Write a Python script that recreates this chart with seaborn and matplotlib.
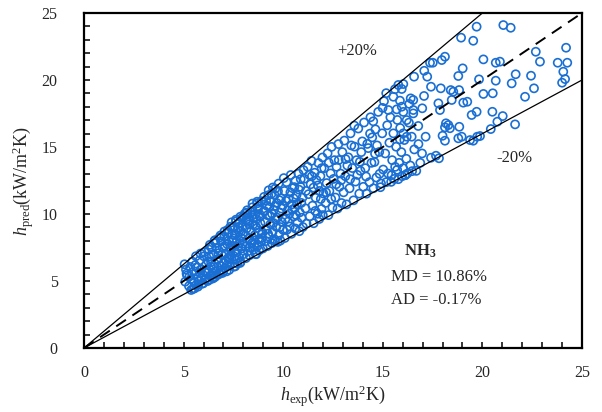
import matplotlib
matplotlib.use("Agg")
import matplotlib.pyplot as plt
from matplotlib.ticker import MultipleLocator
import seaborn as sns
import pandas as pd

# Measured (h_exp) vs. predicted (h_pred) heat transfer coefficient, kW/m2K,
# grouped by range of h_exp
h_exp_05 = [5.05, 5.12, 5.18, 5.08, 5.27, 5.33, 5.41, 5.36, 5.47, 5.52, 5.58, 5.63, 5.69, 5.74, 5.81,
            5.77, 5.88, 5.93, 5.97, 6.02, 5.44, 5.29, 5.66, 5.91, 5.99, 5.55, 5.38, 5.84, 5.15, 5.72,
            5.62, 5.85]
h_pred_05 = [6.25, 5.85, 5.42, 4.95, 4.62, 6.05, 5.62, 5.15, 4.41, 4.93, 6.18, 5.71, 5.28, 4.74, 6.55,
             5.02, 5.88, 4.80, 5.47, 6.84, 6.45, 5.33, 6.02, 5.21, 4.83, 4.45, 4.33, 5.58, 5.55, 4.58,
             6.85, 7.05]

h_exp_06 = [6.06, 6.13, 6.09, 6.21, 6.17, 6.28, 6.34, 6.31, 6.42, 6.38, 6.47, 6.53, 6.51, 6.58, 6.63,
            6.61, 6.72, 6.68, 6.77, 6.83, 6.79, 6.88, 6.92, 6.86, 6.97, 7.02, 6.99, 6.24, 6.44, 6.57,
            6.74, 6.36, 6.49, 6.91, 6.11, 6.66, 6.81, 6.27, 6.55, 6.95, 6.32, 6.58, 6.85]
h_pred_06 = [7.15, 6.22, 5.08, 5.00, 5.77, 6.84, 5.38, 5.10, 7.52, 6.41, 5.19, 6.03, 7.02, 5.30, 5.71,
             7.83, 6.62, 5.44, 7.28, 6.13, 5.52, 7.97, 6.93, 5.79, 7.48, 6.38, 5.73, 6.47, 5.62, 6.29,
             7.07, 6.08, 5.25, 5.81, 5.63, 7.45, 8.25, 7.35, 8.00, 5.60, 7.70, 8.05, 8.40]

h_exp_07 = [7.04, 7.11, 7.08, 7.16, 7.23, 7.19, 7.27, 7.32, 7.29, 7.38, 7.43, 7.36, 7.48, 7.53, 7.46,
            7.57, 7.62, 7.59, 7.66, 7.71, 7.69, 7.77, 7.82, 7.79, 7.88, 7.91, 7.86, 7.96, 8.02, 7.98,
            7.21, 7.41, 7.63, 7.34, 7.51, 7.74, 7.93, 7.13, 7.55, 7.84, 7.06, 7.26, 7.44, 7.67, 7.89,
            7.31, 7.58, 7.75, 7.17, 7.95, 7.05, 7.35, 7.62, 7.85]
h_pred_07 = [8.32, 7.04, 5.98, 5.72, 6.71, 7.74, 8.61, 6.28, 5.83, 7.31, 8.04, 6.92, 9.02, 6.07, 7.63,
             8.43, 6.58, 6.10, 7.12, 8.83, 6.31, 9.27, 7.82, 6.76, 8.22, 7.43, 6.43, 9.04, 7.01, 8.52,
             8.81, 9.38, 9.58, 7.44, 8.17, 7.58, 9.71, 6.52, 6.83, 6.35, 7.62, 8.01, 8.48, 7.97, 8.71,
             6.66, 7.25, 9.02, 6.18, 7.78, 8.70, 9.05, 9.45, 9.80]

h_exp_08 = [8.04, 8.09, 8.13, 8.17, 8.22, 8.19, 8.26, 8.31, 8.28, 8.37, 8.42, 8.39, 8.46, 8.51, 8.48,
            8.57, 8.62, 8.59, 8.66, 8.71, 8.68, 8.77, 8.82, 8.79, 8.86, 8.91, 8.88, 8.96, 9.02, 8.98,
            8.21, 8.43, 8.61, 8.84, 8.33, 8.53, 8.73, 8.93, 8.11, 8.64, 8.07, 8.29, 8.49, 8.69, 8.94,
            8.36, 8.56, 8.76, 8.16, 8.81, 8.15, 8.45, 8.70]
h_pred_08 = [9.83, 7.58, 6.71, 8.93, 7.22, 10.28, 8.17, 6.92, 9.52, 10.13, 7.81, 8.73, 10.78, 7.33, 9.21,
             8.42, 7.02, 9.98, 9.63, 7.61, 8.94, 10.57, 8.13, 7.28, 9.31, 10.96, 7.92, 8.62, 10.21, 7.43,
             9.41, 9.88, 9.12, 9.81, 7.52, 8.03, 10.38, 8.52, 8.41, 7.00, 10.02, 9.22, 9.71, 10.92, 8.21,
             8.02, 7.73, 8.63, 9.62, 10.00, 10.10, 10.50, 10.80]

h_exp_09 = [9.04, 9.09, 9.13, 9.18, 9.22, 9.16, 9.27, 9.33, 9.29, 9.38, 9.43, 9.36, 9.48, 9.53, 9.46,
            9.57, 9.62, 9.59, 9.68, 9.73, 9.66, 9.77, 9.82, 9.79, 9.88, 9.93, 9.86, 9.97, 10.03, 9.99,
            9.21, 9.42, 9.61, 9.81, 9.51, 9.07, 9.31, 9.71, 9.91, 9.24, 9.56, 9.84, 9.14, 9.44, 9.74,
            9.25, 9.60]
h_pred_09 = [11.28, 9.42, 7.98, 10.62, 7.61, 8.83, 11.77, 9.88, 8.31, 10.94, 7.83, 9.24, 11.98, 10.31, 8.62,
             11.41, 9.58, 7.98, 10.82, 7.92, 9.03, 12.27, 10.12, 8.43, 11.18, 9.41, 8.02, 10.63, 12.68, 8.82,
             9.91, 11.52, 10.61, 11.03, 9.33, 10.21, 10.52, 9.72, 10.41, 8.53, 8.12, 9.03, 10.98, 10.02, 11.70,
             11.40, 11.90]

h_exp_10 = [10.06, 10.11, 10.08, 10.17, 10.22, 10.19, 10.27, 10.33, 10.38, 10.43, 10.41, 10.47, 10.53,
            10.58, 10.62, 10.61, 10.67, 10.72, 10.77, 10.83, 10.81, 10.87, 10.92, 10.97, 11.02, 10.99,
            10.31, 10.52, 10.69, 10.91, 10.14, 10.36, 10.56, 10.79, 10.24, 10.46, 10.64, 10.88]
h_pred_10 = [11.72, 9.63, 8.21, 12.38, 10.27, 8.83, 11.12, 9.07, 12.91, 10.72, 8.52, 11.93, 9.81,
             10.43, 12.48, 8.92, 11.42, 9.38, 13.01, 10.12, 8.72, 12.03, 9.72, 11.23, 13.28, 9.03,
             10.02, 11.18, 10.73, 10.83, 10.98, 11.62, 12.01, 11.82, 9.43, 10.33, 9.93, 12.60]

h_exp_11 = [11.06, 11.12, 11.17, 11.23, 11.27, 11.33, 11.38, 11.42, 11.47, 11.53, 11.58, 11.63, 11.67,
            11.72, 11.77, 11.83, 11.81, 11.87, 11.92, 11.97, 12.02, 11.99, 11.31, 11.61, 11.89, 11.14,
            11.44, 11.74, 11.52, 11.93]
h_pred_11 = [12.63, 10.42, 9.28, 13.52, 11.48, 9.83, 12.22, 13.97, 10.62, 9.31, 13.08, 11.21, 12.53,
             10.02, 13.81, 11.72, 9.63, 12.83, 10.38, 14.22, 11.53, 9.92, 12.93, 10.23, 11.12, 11.72,
             12.82, 12.13, 11.97, 13.42]

h_exp_12 = [12.06, 12.13, 12.18, 12.23, 12.27, 12.32, 12.38, 12.43, 12.47, 12.53, 12.57, 12.62, 12.68,
            12.73, 12.77, 12.82, 12.88, 12.93, 12.97, 13.03, 12.29, 12.79, 12.41, 12.66, 12.91, 12.15]
h_pred_12 = [13.42, 10.83, 12.31, 14.53, 9.92, 11.72, 13.03, 15.01, 10.48, 12.62, 14.02, 11.23, 13.52,
             10.41, 15.22, 12.03, 13.02, 10.82, 14.62, 11.62, 13.83, 14.03, 11.12, 12.22, 12.52, 11.62]

h_exp_13 = [13.07, 13.12, 13.18, 13.27, 13.33, 13.38, 13.47, 13.53, 13.58, 13.63, 13.68, 13.77, 13.82,
            13.88, 13.97, 14.02, 13.22, 13.72, 13.42, 13.92, 13.13, 13.57, 13.85, 13.36]
h_pred_13 = [15.48, 12.82, 10.72, 14.23, 11.92, 16.02, 13.43, 11.02, 15.03, 12.42, 14.02, 16.38, 11.52,
             13.22, 15.42, 12.03, 13.62, 12.92, 15.12, 14.62, 14.10, 16.60, 13.90, 12.60]

h_exp_14 = [14.06, 14.12, 14.18, 14.27, 14.33, 14.38, 14.47, 14.53, 14.58, 14.63, 14.68, 14.77, 14.82,
            14.88, 14.97, 15.02, 14.22, 14.43, 14.71, 14.91, 14.52, 14.99, 14.16, 14.61, 14.84, 14.36]
h_pred_14 = [16.83, 13.42, 11.52, 14.92, 12.38, 17.22, 15.72, 11.92, 13.88, 16.32, 12.72, 17.62, 14.63,
             12.00, 16.02, 13.32, 15.23, 13.82, 15.12, 12.28, 16.92, 17.92, 12.80, 14.50, 13.00, 16.00]

h_exp_15 = [15.06, 15.12, 15.18, 15.22, 15.27, 15.33, 15.38, 15.42, 15.47, 15.53, 15.58, 15.62, 15.67,
            15.73, 15.78, 15.82, 15.87, 15.93, 15.97, 16.02, 16.08, 16.13, 16.18, 16.23, 16.31, 16.38,
            16.47, 16.58, 16.68, 16.79, 16.88, 16.97, 15.17, 16.03, 16.33, 15.44, 15.72, 16.12]
h_pred_15 = [18.42, 14.52, 12.38, 16.62, 13.02, 15.32, 17.22, 12.40, 14.02, 16.02, 12.62, 13.52, 15.02,
             17.02, 12.60, 13.82, 16.42, 14.62, 12.82, 13.42, 15.52, 12.90, 14.12, 13.02, 16.82, 13.62,
             13.20, 14.82, 13.22, 15.22, 13.82, 14.52, 19.02, 17.62, 18.22, 12.90, 13.30, 12.90]

h_exp_hi = [19.71, 21.05, 21.42, 18.93, 19.54, 22.68, 24.20, 22.89, 23.78, 24.26, 24.06, 24.15, 24.00,
            20.05, 20.67, 20.88, 21.67, 22.44, 21.47, 22.59, 22.14, 19.01, 18.79, 18.12, 17.96, 17.51,
            17.37, 17.08, 17.23, 16.57, 19.83, 20.67, 20.05, 20.52, 17.42, 17.91, 18.41, 18.54, 18.83,
            18.46, 19.04, 19.24, 17.07, 16.40, 16.53, 15.78, 15.61, 15.95, 16.03, 15.53, 15.86, 15.95,
            15.70, 15.28, 16.98, 16.53, 16.20, 16.53, 17.79, 17.87, 19.46, 19.71, 20.50, 21.02, 20.75,
            21.64, 18.17, 18.29, 18.12, 18.37, 18.84, 16.78, 17.15, 18.00, 18.12, 18.79, 18.96, 19.38,
            19.54, 19.88, 19.74, 20.42, 17.42, 17.67, 17.82, 16.03, 16.20, 16.45, 15.86]
h_pred_hi = [23.98, 24.10, 23.90, 23.16, 22.93, 22.11, 22.41, 21.37, 21.29, 21.29, 20.62, 20.07, 19.80,
             21.54, 21.29, 21.37, 20.43, 20.32, 19.75, 19.38, 18.75, 20.87, 20.30, 21.74, 21.49, 21.29,
             21.29, 20.69, 20.25, 20.25, 20.05, 19.95, 18.96, 19.01, 19.50, 19.38, 19.25, 19.13, 19.25,
             18.51, 18.31, 18.38, 18.81, 18.63, 18.51, 19.63, 19.31, 19.33, 19.70, 18.75, 18.46, 18.01,
             17.81, 17.76, 17.89, 17.76, 17.01, 17.51, 18.26, 17.76, 17.39, 17.63, 17.63, 17.31, 16.89,
             16.69, 16.77, 16.64, 16.47, 16.40, 16.51, 16.57, 15.77, 15.84, 15.47, 15.65, 15.77, 15.52,
             15.47, 15.82, 15.77, 16.34, 14.20, 14.35, 14.16, 16.02, 15.77, 15.77, 15.57]

# Reference lines: perfect agreement and the +/-20 % deviation band
ratio_parity = 1.0
ratio_upper = 1.25
ratio_lower = 0.8
axis_max = 25

groups = [(h_exp_05, h_pred_05), (h_exp_06, h_pred_06), (h_exp_07, h_pred_07),
          (h_exp_08, h_pred_08), (h_exp_09, h_pred_09), (h_exp_10, h_pred_10),
          (h_exp_11, h_pred_11), (h_exp_12, h_pred_12), (h_exp_13, h_pred_13),
          (h_exp_14, h_pred_14), (h_exp_15, h_pred_15), (h_exp_hi, h_pred_hi)]
frames = []
for gx, gy in groups:
    if len(gx) != len(gy):
        raise ValueError("unequal group lengths: %d vs %d" % (len(gx), len(gy)))
    frames.append(pd.DataFrame({"h_exp": gx, "h_pred": gy}))
df = pd.concat(frames, ignore_index=True)

sns.set_style("ticks")
plt.rcParams["font.family"] = ["Liberation Serif", "DejaVu Serif"]
plt.rcParams["mathtext.fontset"] = "custom"
plt.rcParams["mathtext.rm"] = "Liberation Serif"
plt.rcParams["mathtext.it"] = "Liberation Serif:italic"
plt.rcParams["mathtext.bf"] = "Liberation Serif:bold"

fig = plt.figure(figsize=(6.02, 4.12), dpi=100)
ax = fig.add_axes([0.1395, 0.1553, 0.8273, 0.8131])

blue = "#1a6fd4"
sns.scatterplot(data=df, x="h_exp", y="h_pred", ax=ax, marker="o", s=34,
                color=blue, facecolors="none", edgecolor=blue, linewidth=1.2,
                zorder=3)

xs = [0, axis_max]
ax.plot(xs, [ratio_parity * v for v in xs], color="black", lw=1.4,
        dashes=(6, 4), zorder=4)
ax.plot([0, axis_max / ratio_upper], [0, axis_max], color="black", lw=0.9, zorder=4)
ax.plot(xs, [ratio_lower * v for v in xs], color="black", lw=0.9, zorder=4)

ax.set_xlim(0, axis_max)
ax.set_ylim(0, axis_max)
ax.xaxis.set_major_locator(MultipleLocator(5))
ax.yaxis.set_major_locator(MultipleLocator(5))
ax.xaxis.set_minor_locator(MultipleLocator(1))
ax.yaxis.set_minor_locator(MultipleLocator(1))
ax.tick_params(axis="both", which="both", direction="in", top=False, right=False,
               length=4, width=1.3, labelsize=11.5)
ax.tick_params(axis="x", which="major", pad=12)
ax.tick_params(axis="y", which="major", pad=19)
for sp in ax.spines.values():
    sp.set_visible(True)
    sp.set_linewidth(1.6)
    sp.set_color("black")

ax.set_xlabel(r"$h_{\mathrm{exp}}$(kW/m$^2$K)", fontsize=13, labelpad=2)
ax.set_ylabel(r"$h_{\mathrm{pred}}$(kW/m$^2$K)", fontsize=13, labelpad=4)

ax.text(13.7, 22.2, "+20%", fontsize=12, ha="center", va="center")
ax.text(21.6, 14.2, "-20%", fontsize=12, ha="center", va="center")
ax.text(16.9, 7.2, r"$\mathbf{NH_3}$", fontsize=12, ha="center", va="center")
ax.text(15.4, 5.3, "MD = 10.86%", fontsize=12, ha="left", va="center")
ax.text(15.4, 3.6, "AD = -0.17%", fontsize=12, ha="left", va="center")

fig.savefig("out.png", dpi=100, facecolor="white")
